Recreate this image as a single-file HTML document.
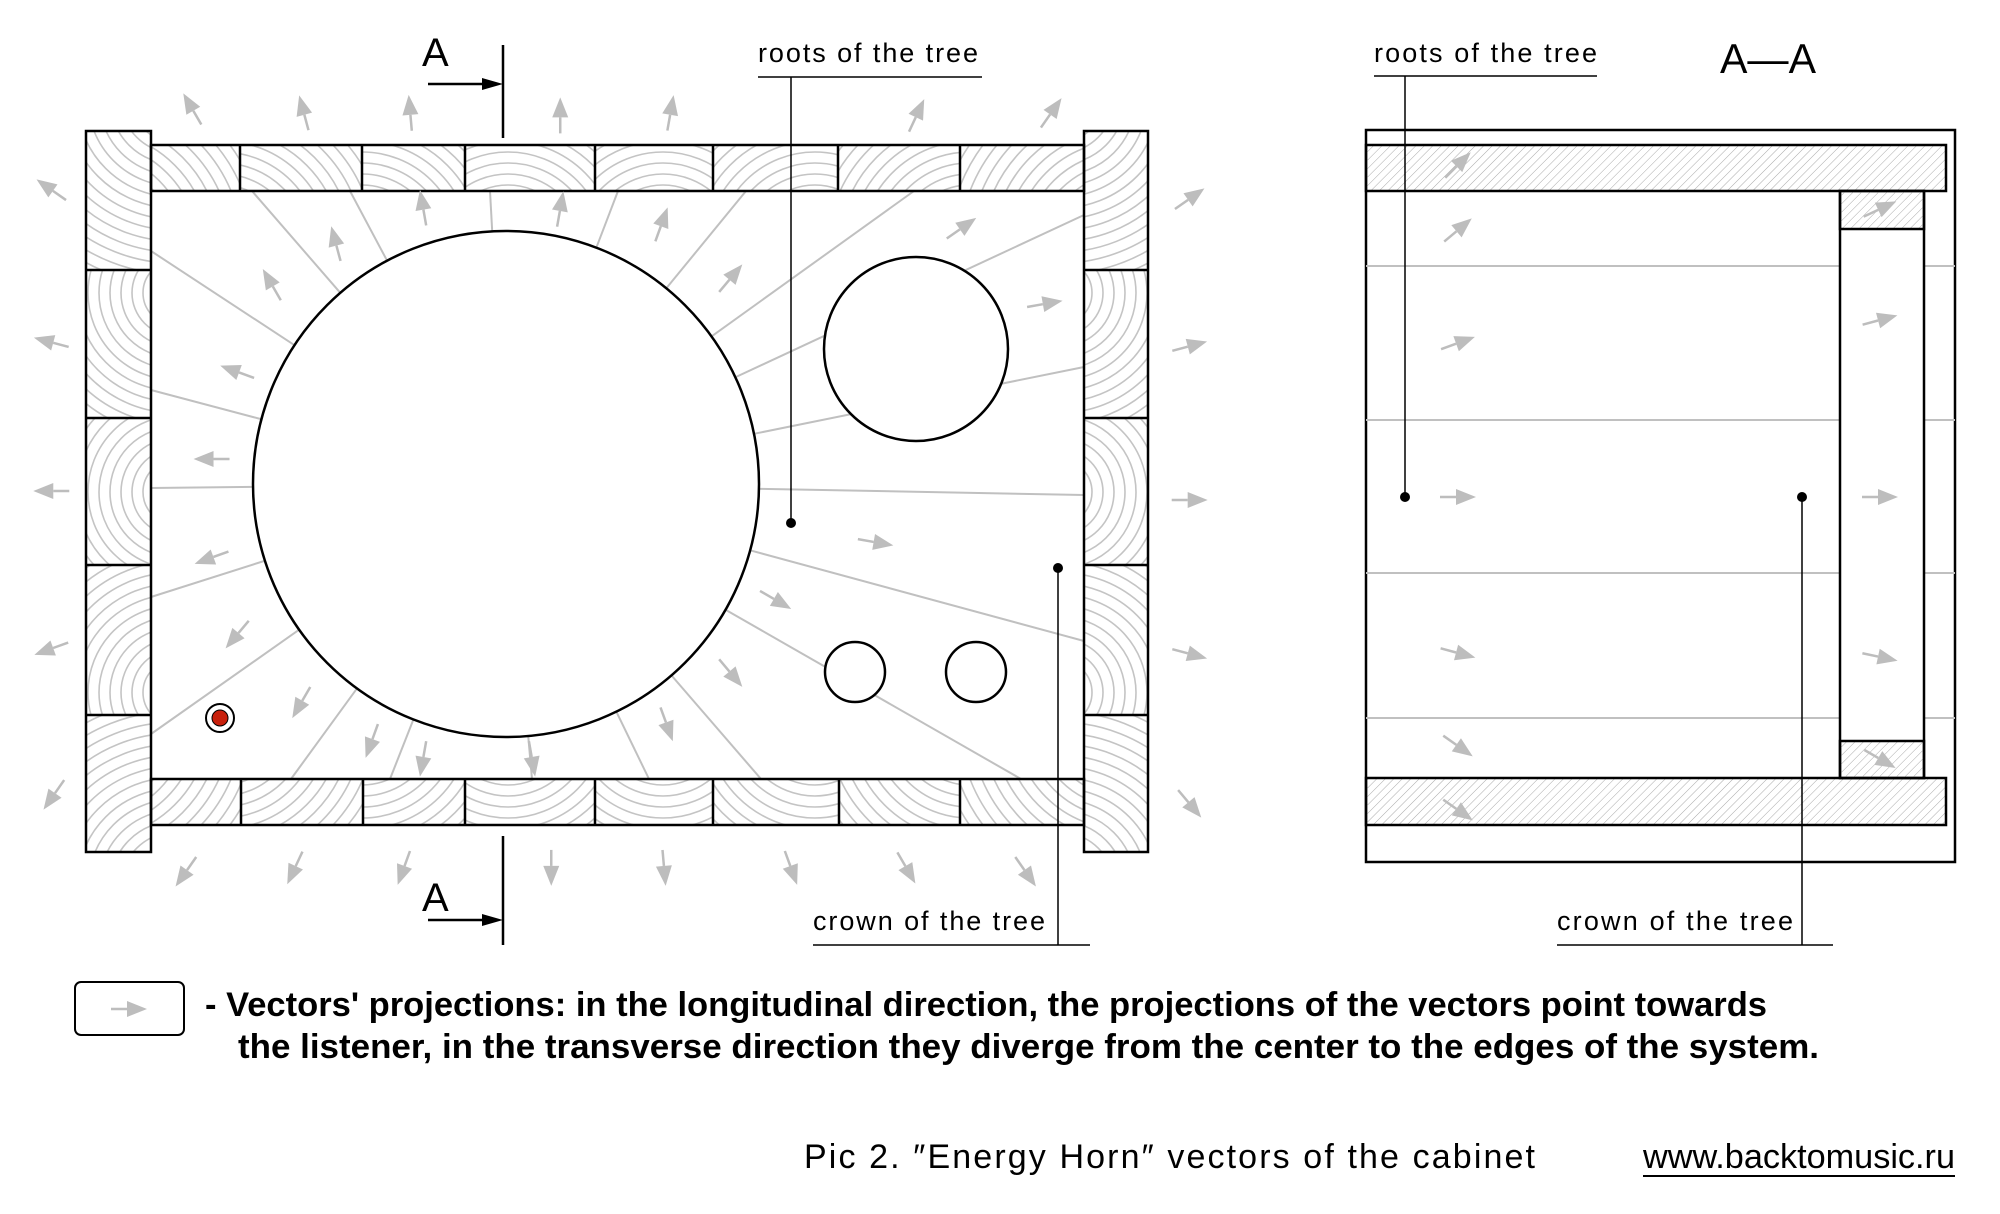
<!DOCTYPE html>
<html><head><meta charset="utf-8"><style>
html,body{margin:0;padding:0;background:#fff;}
svg{display:block;}
text{font-family:"Liberation Sans",sans-serif;fill:#000;}
</style></head><body>
<svg id="s" width="2000" height="1214" viewBox="0 0 2000 1214" xmlns="http://www.w3.org/2000/svg">
<defs>
<pattern id="hatch" width="6" height="6" patternUnits="userSpaceOnUse" patternTransform="rotate(45)">
<line x1="0" y1="0" x2="0" y2="6" stroke="#aaa" stroke-width="1"/>
</pattern>
</defs>
<g id="grain"></g>
<g id="radial" stroke="#c0c0c0" stroke-width="2" fill="none"></g>
<g fill="none" stroke="#000" stroke-width="2.5">
<rect x="86" y="131" width="65" height="721"/>
<rect x="1084" y="131" width="64" height="721"/>
<rect x="151" y="145" width="933" height="46"/>
<rect x="151" y="779" width="933" height="46"/>
<line x1="86" y1="270" x2="151" y2="270"/><line x1="86" y1="418" x2="151" y2="418"/>
<line x1="86" y1="565" x2="151" y2="565"/><line x1="86" y1="715" x2="151" y2="715"/>
<line x1="1084" y1="270" x2="1148" y2="270"/><line x1="1084" y1="418" x2="1148" y2="418"/>
<line x1="1084" y1="565" x2="1148" y2="565"/><line x1="1084" y1="715" x2="1148" y2="715"/>
<line x1="240" y1="145" x2="240" y2="191"/><line x1="362" y1="145" x2="362" y2="191"/>
<line x1="465" y1="145" x2="465" y2="191"/><line x1="595" y1="145" x2="595" y2="191"/>
<line x1="713" y1="145" x2="713" y2="191"/><line x1="838" y1="145" x2="838" y2="191"/>
<line x1="960" y1="145" x2="960" y2="191"/>
<line x1="241" y1="779" x2="241" y2="825"/><line x1="363" y1="779" x2="363" y2="825"/>
<line x1="465" y1="779" x2="465" y2="825"/><line x1="595" y1="779" x2="595" y2="825"/>
<line x1="713" y1="779" x2="713" y2="825"/><line x1="839" y1="779" x2="839" y2="825"/>
<line x1="960" y1="779" x2="960" y2="825"/>
</g>
<g fill="#fff" stroke="#000" stroke-width="2.5">
<circle cx="506" cy="484" r="253"/>
<circle cx="916" cy="349" r="92"/>
<circle cx="855" cy="672" r="30"/>
<circle cx="976" cy="672" r="30"/>
</g>
<circle cx="220" cy="718" r="14" fill="#fff" stroke="#000" stroke-width="2"/>
<circle cx="220" cy="718" r="8" fill="#c8200c" stroke="#000" stroke-width="1"/>
<g id="arrows" fill="#bdbdbd" stroke="#bdbdbd"></g>
<g stroke="#000" stroke-width="2.5">
<line x1="503" y1="45" x2="503" y2="138"/>
<line x1="428" y1="84" x2="490" y2="84"/>
<line x1="503" y1="836" x2="503" y2="945"/>
<line x1="428" y1="920" x2="490" y2="920"/>
</g>
<polygon points="503,84 482,78 482,90" fill="#000"/>
<polygon points="503,920 482,914 482,926" fill="#000"/>
<text x="422" y="66" font-size="40">A</text>
<text x="422" y="911" font-size="40">A</text>
<text x="758" y="62" font-size="27" textLength="220" lengthAdjust="spacing">roots of the tree</text>
<line x1="758" y1="77" x2="982" y2="77" stroke="#000" stroke-width="1.5"/>
<line x1="791" y1="77" x2="791" y2="523" stroke="#000" stroke-width="1.5"/>
<circle cx="791" cy="523" r="5" fill="#000"/>
<text x="813" y="930" font-size="27" textLength="232" lengthAdjust="spacing">crown of the tree</text>
<line x1="813" y1="945" x2="1090" y2="945" stroke="#000" stroke-width="1.5"/>
<line x1="1058" y1="568" x2="1058" y2="945" stroke="#000" stroke-width="1.5"/>
<circle cx="1058" cy="568" r="5" fill="#000"/>
<rect x="1366" y="130" width="589" height="732" fill="none" stroke="#000" stroke-width="2.5"/>
<g stroke="#c0c0c0" stroke-width="2">
<line x1="1366" y1="266" x2="1840" y2="266"/><line x1="1924" y1="266" x2="1955" y2="266"/>
<line x1="1366" y1="420" x2="1840" y2="420"/><line x1="1924" y1="420" x2="1955" y2="420"/>
<line x1="1366" y1="573" x2="1840" y2="573"/><line x1="1924" y1="573" x2="1955" y2="573"/>
<line x1="1366" y1="718" x2="1840" y2="718"/><line x1="1924" y1="718" x2="1955" y2="718"/>
</g>
<g stroke="#000" stroke-width="2.5">
<rect x="1366" y="145" width="580" height="46" fill="url(#hatch)"/>
<rect x="1366" y="778" width="580" height="47" fill="url(#hatch)"/>
<rect x="1840" y="191" width="84" height="587" fill="#fff"/>
<rect x="1840" y="191" width="84" height="38" fill="url(#hatch)"/>
<rect x="1840" y="741" width="84" height="37" fill="url(#hatch)"/>
</g>
<g id="arrows2" fill="#bdbdbd" stroke="#bdbdbd"></g>
<text x="1374" y="62" font-size="27" textLength="223" lengthAdjust="spacing">roots of the tree</text>
<line x1="1374" y1="76" x2="1597" y2="76" stroke="#000" stroke-width="1.5"/>
<line x1="1405" y1="76" x2="1405" y2="497" stroke="#000" stroke-width="1.5"/>
<circle cx="1405" cy="497" r="5" fill="#000"/>
<text x="1720" y="73" font-size="42" textLength="96" lengthAdjust="spacingAndGlyphs">A—A</text>
<text x="1557" y="930" font-size="27" textLength="236" lengthAdjust="spacing">crown of the tree</text>
<line x1="1557" y1="945" x2="1833" y2="945" stroke="#000" stroke-width="1.5"/>
<line x1="1802" y1="497" x2="1802" y2="945" stroke="#000" stroke-width="1.5"/>
<circle cx="1802" cy="497" r="5" fill="#000"/>
<rect x="75" y="982" width="109" height="53" rx="6" fill="none" stroke="#000" stroke-width="2"/>
<g id="arrows3" fill="#bdbdbd" stroke="#bdbdbd"></g>
<text x="205" y="1016" font-size="34" font-weight="bold" textLength="1562" lengthAdjust="spacingAndGlyphs">- Vectors' projections: in the longitudinal direction, the projections of the vectors point towards</text>
<text x="238" y="1058" font-size="34" font-weight="bold" textLength="1581" lengthAdjust="spacingAndGlyphs">the listener, in the transverse direction they diverge from the center to the edges of the system.</text>
<text x="804" y="1168" font-size="34" textLength="731" lengthAdjust="spacing">Pic 2. ″Energy Horn″   vectors of the cabinet</text>
<text x="1643" y="1168" font-size="34" textLength="312" lengthAdjust="spacingAndGlyphs">www.backtomusic.ru</text>
<line x1="1643" y1="1176" x2="1955" y2="1176" stroke="#000" stroke-width="2"/>
</svg>
<script>
var NS="http://www.w3.org/2000/svg";
function el(p,t,a){var e=document.createElementNS(NS,t);for(var k in a)e.setAttribute(k,a[k]);p.appendChild(e);return e;}
var g=document.getElementById('grain');var defs=document.querySelector('defs');var cid=0;
function seg(x,y,w,h,cx,cy){var id='c'+(cid++);var cp=el(defs,'clipPath',{id:id});el(cp,'rect',{x:x,y:y,width:w,height:h});
 var gg=el(g,'g',{'clip-path':'url(#'+id+')',fill:'none',stroke:'#c4c4c4','stroke-width':1.6});
 for(var r=10;r<260;r+=11)el(gg,'circle',{cx:cx,cy:cy,r:r});}
var tx=[151,240,362,465,595,713,838,960,1084];
for(var i=0;i<8;i++){var m=(tx[i]+tx[i+1])/2;var off=(m-618)*0.25;
 seg(tx[i],145,tx[i+1]-tx[i],46,m+off,250);seg(tx[i],779,tx[i+1]-tx[i],46,m+off,720);}
var ly=[131,270,418,565,715,852];
for(var i=0;i<5;i++){var m=(ly[i]+ly[i+1])/2;var off=(m-490)*0.35;
 seg(86,ly[i],65,ly[i+1]-ly[i],175,m+off);seg(1084,ly[i],64,ly[i+1]-ly[i],1060,m+off);}
var rg=document.getElementById('radial');var C=[506,484],R=253;
var ends=[[252,191],[350,191],[490,191],[618,191],[746,191],[914,191],[1084,215],[1084,367],[1084,495],[1084,641],[1021,779],[761,779],[649,779],[532,779],[390,779],[291,779],[151,734],[151,597],[151,488],[151,390],[151,251]];
ends.forEach(function(e){var dx=e[0]-C[0],dy=e[1]-C[1],d=Math.hypot(dx,dy);
 el(rg,'line',{x1:C[0]+dx/d*R,y1:C[1]+dy/d*R,x2:e[0],y2:e[1]});});
function arrow(p,cx,cy,ang,L){L=L||36;var a=ang*Math.PI/180,ux=Math.cos(a),uy=Math.sin(a);
 var tx=cx-ux*L/2,ty=cy-uy*L/2,hx=cx+ux*L/2,hy=cy+uy*L/2;var hl=20,hw=8;
 var bx=hx-ux*hl,by=hy-uy*hl;
 el(p,'line',{x1:tx,y1:ty,x2:bx,y2:by,'stroke-width':2.5});
 el(p,'polygon',{points:hx+','+hy+' '+(bx-uy*hw)+','+(by+ux*hw)+' '+(bx+uy*hw)+','+(by-ux*hw),stroke:'none'});}
var A=document.getElementById('arrows');var k=1.282;
var list=[[150,85,-120],[237,88,-105],[320,88,-95],[437,90,-90],[523,88,-80],[715,90,-65],[820,88,-55],
[40,148,-145],[40,267,-165],[40,383,180],[40,506,160],[42,620,125],
[928,155,-35],[928,270,-15],[928,390,0],[928,510,15],[928,627,50],
[145,680,125],[230,677,115],[315,677,110],[430,677,90],[518,677,85],[617,677,70],[707,677,60],[800,680,55],
[262,190,-105],[212,222,-120],[185,290,-160],[165,358,180],[165,435,160],[185,495,130],[235,548,120],[290,578,110],[330,592,100],[415,592,80],[520,565,70],[570,525,50],[605,468,30],[683,423,10],[750,178,-35],[815,237,-10],[516,175,-70],[570,217,-50],[330,162,-100],[437,163,-80]];
list.forEach(function(a){arrow(A,a[0]*k,a[1]*k,a[2]);});
var B=document.getElementById('arrows2');
[[1458,165,-45],[1458,230,-40],[1458,343,-20],[1458,497,0],[1458,653,15],[1458,746,35],[1458,810,35]].forEach(function(a){arrow(B,a[0],a[1],a[2]);});
[[1880,209,-25],[1880,320,-15],[1880,497,0],[1880,657,12],[1880,759,30]].forEach(function(a){arrow(B,a[0],a[1],a[2]);});
arrow(document.getElementById('arrows3'),129,1009,0,36);
</script>
</body></html>
